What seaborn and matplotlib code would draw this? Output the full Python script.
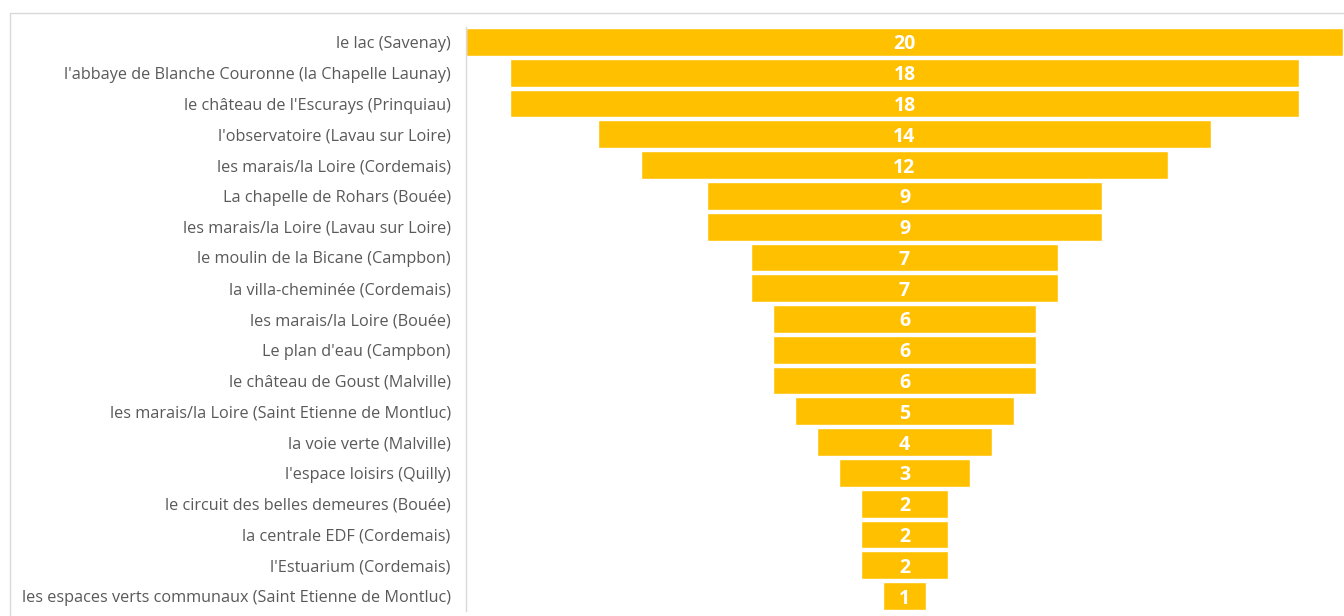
import matplotlib.pyplot as plt
import seaborn as sns
import pandas as pd

places = [
    "le lac (Savenay)",
    "l'abbaye de Blanche Couronne (la Chapelle Launay)",
    "le château de l'Escurays (Prinquiau)",
    "l'observatoire (Lavau sur Loire)",
    "les marais/la Loire (Cordemais)",
    "La chapelle de Rohars (Bouée)",
    "les marais/la Loire (Lavau sur Loire)",
    "le moulin de la Bicane (Campbon)",
    "la villa-cheminée (Cordemais)",
    "les marais/la Loire (Bouée)",
    "Le plan d'eau (Campbon)",
    "le château de Goust (Malville)",
    "les marais/la Loire (Saint Etienne de Montluc)",
    "la voie verte (Malville)",
    "l'espace loisirs (Quilly)",
    "le circuit des belles demeures (Bouée)",
    "la centrale EDF (Cordemais)",
    "l'Estuarium (Cordemais)",
    "les espaces verts communaux (Saint Etienne de Montluc)",
]
counts = [20, 18, 18, 14, 12, 9, 9, 7, 7, 6, 6, 6, 5, 4, 3, 2, 2, 2, 1]

df = pd.DataFrame({"place": places, "count": counts})
top = max(counts)

sns.set_style("white")
plt.rcParams['font.family'] = ['Open Sans', 'DejaVu Sans']

fig = plt.figure(figsize=(13.44, 6.16), dpi=100)
ax = fig.add_axes([466 / 1344, 4.6 / 616, 877 / 1344, 584.8 / 616])

sns.barplot(data=df, x="count", y="place", orient="h", color="#FFC000",
            saturation=1, width=0.9, edgecolor="white", linewidth=1, ax=ax)

# centre each bar to get the funnel shape
for patch, v in zip(ax.patches, counts):
    patch.set_x((top - v) / 2)
    ax.text(top / 2, patch.get_y() + patch.get_height() / 2, str(v),
            ha="center", va="center_baseline", color="white", fontsize=14,
            fontweight="bold")

ax.set_xlim(0, top)
ax.set_ylim(len(places) - 0.5, -0.5)
ax.set_xlabel("")
ax.set_ylabel("")
ax.set_xticks([])
ax.tick_params(axis="y", length=0, pad=11, labelsize=11.7, labelcolor="#595959")
for s in ["top", "right", "bottom"]:
    ax.spines[s].set_visible(False)
ax.spines["left"].set_color("#d9d9d9")
ax.spines["left"].set_linewidth(1)

# chart frame (cropped at right and bottom)
y_top = 1 - 13 / 616
x_left = 10 / 1344
fig.add_artist(plt.Line2D([x_left, 1], [y_top, y_top], color="#d9d9d9", lw=1))
fig.add_artist(plt.Line2D([x_left, x_left], [0, y_top], color="#d9d9d9", lw=1))

fig.savefig("out.png", dpi=100)
